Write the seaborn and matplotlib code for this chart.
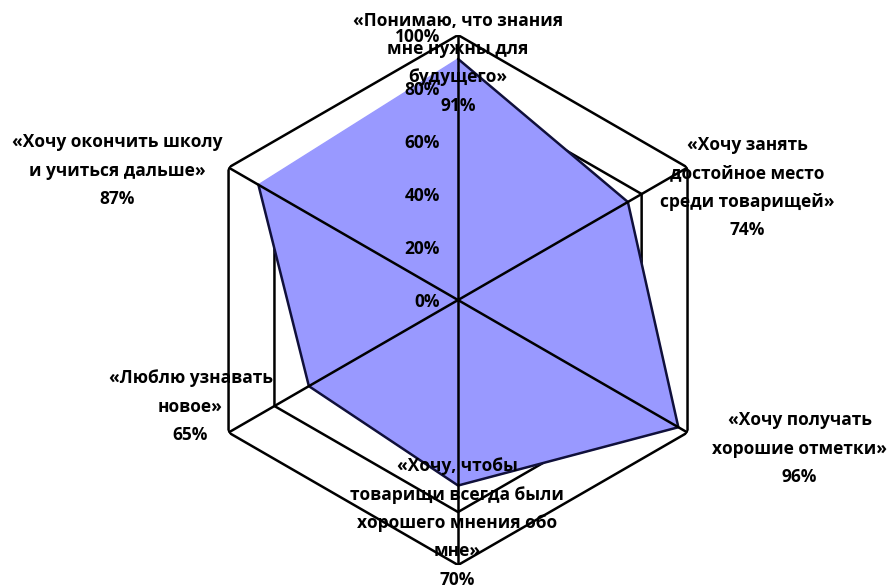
import numpy as np
import matplotlib
matplotlib.use("Agg")
import matplotlib.pyplot as plt
import seaborn as sns

# survey answers, clockwise from the top
categories = [
    "«Понимаю, что знания\nмне нужны для\nбудущего»",
    "«Хочу занять\nдостойное место\nсреди товарищей»",
    "«Хочу получать\nхорошие отметки»",
    "«Хочу, чтобы\nтоварищи всегда были\nхорошего мнения обо\nмне»",
    "«Люблю узнавать\nновое»",
    "«Хочу окончить школу\nи учиться дальше»",
]
values = [0.91, 0.74, 0.96, 0.70, 0.65, 0.87]
ring_levels = [0.2, 0.4, 0.6, 0.8, 1.0]
tick_levels = [0.0, 0.2, 0.4, 0.6, 0.8, 1.0]
tick_labels = ["0%", "20%", "40%", "60%", "80%", "100%"]

sns.set_theme(style="white")
plt.rcParams["font.family"] = ["Open Sans", "DejaVu Sans"]
plt.rcParams["text.color"] = "black"

fig = plt.figure(figsize=(8.92, 5.86), dpi=100)
ax = fig.add_axes([0.2164, 0.0358, 0.5942, 0.9044], projection="polar")
ax.set_theta_offset(np.pi / 2)
ax.set_theta_direction(-1)
ax.set_ylim(0, 1)
ax.grid(False)
ax.spines["polar"].set_visible(False)
ax.set_xticks([])
ax.set_yticks([])
ax.patch.set_alpha(0)

n = len(values)
theta = np.linspace(0, 2 * np.pi, n, endpoint=False)
theta_c = np.append(theta, theta[0])
vals_c = np.append(values, values[0])

# hexagon grid under the fill
for r in ring_levels:
    ax.plot(theta_c, [r] * (n + 1), color="black", lw=1.8, zorder=1)

ax.fill(theta_c, vals_c, color="#9999FF", zorder=2)
sns.lineplot(x=theta_c, y=vals_c, ax=ax, sort=False, color="#10103a",
             lw=1.8, zorder=3)

# spokes on top of the fill
for t in theta:
    ax.plot([t, t], [0, 1], color="black", lw=1.8, zorder=4)

# radial tick labels along the top spoke
for r, lab in zip(tick_levels, tick_labels):
    ax.annotate(lab, xy=(0, r), xytext=(-18, -2), textcoords="offset pixels",
                ha="right", va="center", fontsize=12.5, fontweight="bold",
                color="black", zorder=5)

# category labels with values
offsets = [(0, -28), (60, -20), (112, -16), (-1, 42), (-38, 26), (-111, -3)]
for t, cat, v, off in zip(theta, categories, values, offsets):
    ax.annotate(f"{cat}\n{round(v * 100)}%", xy=(t, 1.0), xytext=off,
                textcoords="offset pixels", ha="center", va="center",
                multialignment="center", fontsize=12.5, fontweight="bold",
                linespacing=1.74, color="black", zorder=6,
                annotation_clip=False)

fig.savefig("out.png", dpi=100)
